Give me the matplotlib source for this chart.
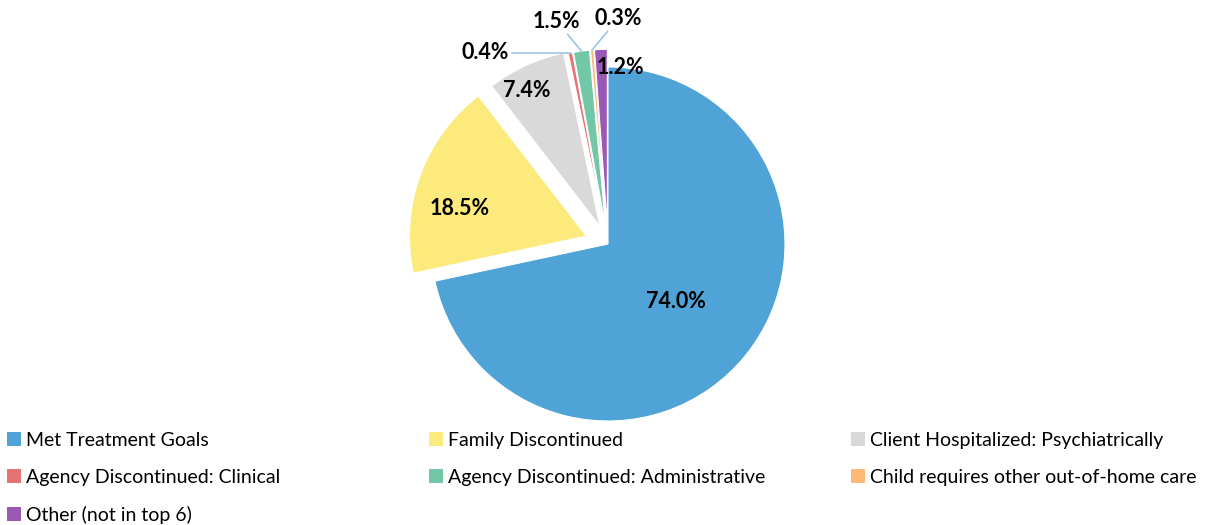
import numpy as np
import matplotlib.pyplot as plt
from matplotlib.patches import Patch

plt.rcParams['font.family'] = ['Lato', 'DejaVu Sans']

# data
categories = ['Met Treatment Goals', 'Family Discontinued', 'Client Hospitalized: Psychiatrically',
              'Agency Discontinued: Clinical', 'Agency Discontinued: Administrative',
              'Child requires other out-of-home care', 'Other (not in top 6)']
values = [74.0, 18.5, 7.4, 0.4, 1.5, 0.3, 1.2]
labels = ['74.0%', '18.5%', '7.4%', '0.4%', '1.5%', '0.3%', '1.2%']
colors = ['#4FA3D7', '#FCEA7D', '#D9D9D9', '#E57373', '#72C8A6', '#FFB877', '#9B59B6']
explode = [0, 0.13, 0.11, 0.1, 0.1, 0.1, 0.1]

W, H = 1212, 525
R = 177.0            # pie radius in pixels
cx, cy = 608, 244    # pie centre in pixels (from top)

fig = plt.figure(figsize=(W / 100, H / 100), dpi=100)
ax = fig.add_axes([0, 0, 1, 1])

wedges, _ = ax.pie(values, colors=colors, explode=explode, startangle=90, counterclock=False,
                   radius=1, center=(0, 0), frame=True,
                   wedgeprops=dict(edgecolor='white', linewidth=0.8))
ax.axis('off')
# one data unit == pie radius, same scale on both axes
ax.set_xlim(-cx / R, (W - cx) / R)
ax.set_ylim(-(H - cy) / R, cy / R)
for w in wedges:
    w.set_clip_on(False)


def edge_point(w, r=1.0):
    ang = np.deg2rad((w.theta1 + w.theta2) / 2)
    x0, y0 = w.center
    return x0 + r * np.cos(ang), y0 + r * np.sin(ang)


lab_kw = dict(ha='center', va='center', fontsize=15.5, fontweight='bold', color='black')

# labels inside / at the wedges  (radius, nudge x, nudge y)
inside = {0: (0.49, 0.0, -0.015), 1: (0.74, -0.02, -0.1), 2: (0.88, -0.045, -0.03)}
for i, (r, nx, ny) in inside.items():
    x, y = edge_point(wedges[i], r)
    ax.text(x + nx, y + ny, labels[i], **lab_kw)

# 1.2% sits just right of the purple slice
px, py = edge_point(wedges[6], 1.0)
ax.text(px + 0.11, py - 0.1, labels[6], **lab_kw)

# small slices with leader lines
line_kw = dict(arrowstyle='-', color='#9DC3E6', lw=1.2, shrinkA=0, shrinkB=0)
offsets = {3: (-0.48, -0.0), 4: (-0.14, 0.17), 5: (0.15, 0.18)}
for i, (dx, dy) in offsets.items():
    x, y = edge_point(wedges[i], 1.0)
    ax.annotate(labels[i], xy=(x, y), xytext=(x + dx, y + dy),
                arrowprops=line_kw, **lab_kw)

# legend in three columns, filled row by row like the original
handles = [Patch(facecolor=c, edgecolor='none') for c in colors]
col_x = [7, 429, 851]
for k in range(3):
    idx = list(range(k, len(categories), 3))
    fig.legend([handles[i] for i in idx], [categories[i] for i in idx],
               loc='upper left', bbox_to_anchor=(col_x[k] / W, 1 - 432 / H),
               frameon=False, fontsize=14, handlelength=0.7, handleheight=0.7,
               handletextpad=0.3, labelspacing=1.02, borderpad=0, borderaxespad=0)

fig.savefig('out.png', dpi=100)
